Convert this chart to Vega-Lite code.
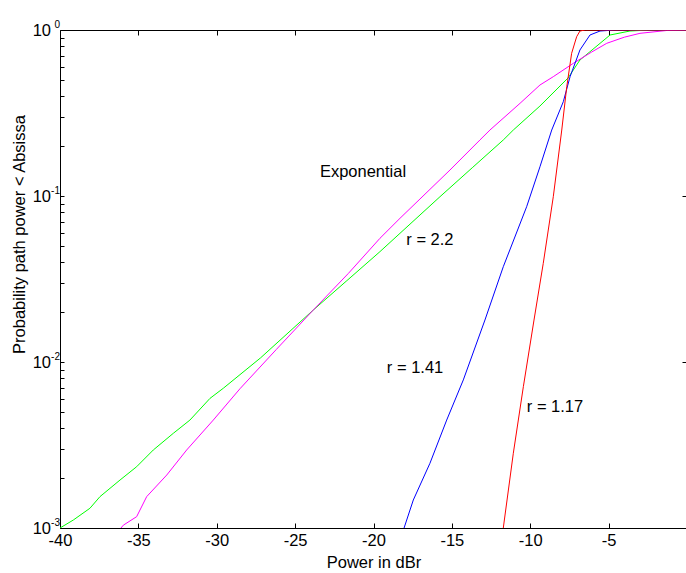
{
  "$schema": "https://vega.github.io/schema/vega-lite/v6.json",
  "width": 627,
  "height": 498,
  "autosize": "none",
  "padding": {"left": 60, "top": 30, "right": 0, "bottom": 45},
  "background": "white",
  "config": {
    "font": "Liberation Sans",
    "view": {"stroke": null},
    "axis": {
      "grid": false,
      "domainColor": "black",
      "tickColor": "black",
      "labelColor": "black",
      "titleColor": "black",
      "labelFont": "Liberation Sans",
      "titleFont": "Liberation Sans",
      "labelFontSize": 16.5,
      "titleFontSize": 16.5,
      "titleFontWeight": "normal",
      "domainWidth": 1,
      "tickWidth": 1,
      "labelFlush": false,
      "labelOverlap": false,
      "labelBound": false
    }
  },
  "title": {
    "text": "CDF of individual path powers, Normalized in sets of six",
    "font": "Liberation Sans",
    "fontSize": 16.5,
    "fontWeight": "normal",
    "color": "black",
    "anchor": "middle",
    "baseline": "alphabetic",
    "offset": 10
  },
  "datasets": {
    "curves": [
      {"series": "r = 2.2", "power": -40, "prob": 0.001},
      {"series": "r = 2.2", "power": -39.15, "prob": 0.001117},
      {"series": "r = 2.2", "power": -38.09, "prob": 0.001315},
      {"series": "r = 2.2", "power": -37.45, "prob": 0.001545},
      {"series": "r = 2.2", "power": -36.17, "prob": 0.001946},
      {"series": "r = 2.2", "power": -35.11, "prob": 0.00234},
      {"series": "r = 2.2", "power": -34.05, "prob": 0.00295},
      {"series": "r = 2.2", "power": -32.77, "prob": 0.00372},
      {"series": "r = 2.2", "power": -31.71, "prob": 0.00447},
      {"series": "r = 2.2", "power": -30.43, "prob": 0.00604},
      {"series": "r = 2.2", "power": -29.58, "prob": 0.00695},
      {"series": "r = 2.2", "power": -27.2, "prob": 0.0106},
      {"series": "r = 2.2", "power": -23.84, "prob": 0.02057},
      {"series": "r = 2.2", "power": -21.7, "prob": 0.0309},
      {"series": "r = 2.2", "power": -19.59, "prob": 0.0462},
      {"series": "r = 2.2", "power": -18.31, "prob": 0.0596},
      {"series": "r = 2.2", "power": -15.76, "prob": 0.099},
      {"series": "r = 2.2", "power": -13.7, "prob": 0.148},
      {"series": "r = 2.2", "power": -11.72, "prob": 0.2175},
      {"series": "r = 2.2", "power": -11.08, "prob": 0.2497},
      {"series": "r = 2.2", "power": -9.38, "prob": 0.3484},
      {"series": "r = 2.2", "power": -7.59, "prob": 0.514},
      {"series": "r = 2.2", "power": -6.83, "prob": 0.6595},
      {"series": "r = 2.2", "power": -6.19, "prob": 0.74},
      {"series": "r = 2.2", "power": -4.91, "prob": 0.933},
      {"series": "r = 2.2", "power": -3.64, "prob": 0.986},
      {"series": "r = 2.2", "power": -2.5, "prob": 0.998},
      {"series": "r = 2.2", "power": 0, "prob": 1},
      {"series": "Exponential", "power": -36.11, "prob": 0.001},
      {"series": "Exponential", "power": -35.96, "prob": 0.00104},
      {"series": "Exponential", "power": -35.11, "prob": 0.00117},
      {"series": "Exponential", "power": -34.47, "prob": 0.001545},
      {"series": "Exponential", "power": -33.19, "prob": 0.002085},
      {"series": "Exponential", "power": -31.92, "prob": 0.00295},
      {"series": "Exponential", "power": -30.22, "prob": 0.00447},
      {"series": "Exponential", "power": -28.52, "prob": 0.0069},
      {"series": "Exponential", "power": -26.2, "prob": 0.0119},
      {"series": "Exponential", "power": -23.84, "prob": 0.02057},
      {"series": "Exponential", "power": -21.6, "prob": 0.0342},
      {"series": "Exponential", "power": -19.59, "prob": 0.0556},
      {"series": "Exponential", "power": -18.31, "prob": 0.0734},
      {"series": "Exponential", "power": -15.12, "prob": 0.1434},
      {"series": "Exponential", "power": -13.21, "prob": 0.2175},
      {"series": "Exponential", "power": -12.57, "prob": 0.2497},
      {"series": "Exponential", "power": -10.65, "prob": 0.3618},
      {"series": "Exponential", "power": -9.38, "prob": 0.4663},
      {"series": "Exponential", "power": -8.53, "prob": 0.5233},
      {"series": "Exponential", "power": -7.25, "prob": 0.63},
      {"series": "Exponential", "power": -6.1, "prob": 0.735},
      {"series": "Exponential", "power": -5.12, "prob": 0.8315},
      {"series": "Exponential", "power": -4.0, "prob": 0.905},
      {"series": "Exponential", "power": -3.0, "prob": 0.955},
      {"series": "Exponential", "power": -1.3, "prob": 0.993},
      {"series": "Exponential", "power": 0, "prob": 1},
      {"series": "r = 1.41", "power": -18.05, "prob": 0.001},
      {"series": "r = 1.41", "power": -17.46, "prob": 0.001475},
      {"series": "r = 1.41", "power": -16.4, "prob": 0.002453},
      {"series": "r = 1.41", "power": -15.33, "prob": 0.00447},
      {"series": "r = 1.41", "power": -14.27, "prob": 0.0078},
      {"series": "r = 1.41", "power": -12.89, "prob": 0.0179},
      {"series": "r = 1.41", "power": -11.72, "prob": 0.0375},
      {"series": "r = 1.41", "power": -10.23, "prob": 0.0862},
      {"series": "r = 1.41", "power": -9.38, "prob": 0.15},
      {"series": "r = 1.41", "power": -8.63, "prob": 0.2497},
      {"series": "r = 1.41", "power": -7.89, "prob": 0.37},
      {"series": "r = 1.41", "power": -7.46, "prob": 0.5233},
      {"series": "r = 1.41", "power": -6.83, "prob": 0.758},
      {"series": "r = 1.41", "power": -6.19, "prob": 0.933},
      {"series": "r = 1.41", "power": -5.55, "prob": 0.986},
      {"series": "r = 1.41", "power": -4.6, "prob": 1},
      {"series": "r = 1.41", "power": 0, "prob": 1},
      {"series": "r = 1.17", "power": -11.72, "prob": 0.001},
      {"series": "r = 1.17", "power": -11.08, "prob": 0.00282},
      {"series": "r = 1.17", "power": -10.44, "prob": 0.0071},
      {"series": "r = 1.17", "power": -9.76, "prob": 0.0179},
      {"series": "r = 1.17", "power": -9.17, "prob": 0.0393},
      {"series": "r = 1.17", "power": -8.53, "prob": 0.099},
      {"series": "r = 1.17", "power": -7.99, "prob": 0.2497},
      {"series": "r = 1.17", "power": -7.67, "prob": 0.4553},
      {"series": "r = 1.17", "power": -7.36, "prob": 0.7238},
      {"series": "r = 1.17", "power": -7.04, "prob": 0.911},
      {"series": "r = 1.17", "power": -6.83, "prob": 0.986},
      {"series": "r = 1.17", "power": -6.5, "prob": 1},
      {"series": "r = 1.17", "power": 0, "prob": 1}
    ],
    "labels": [
      {"text": "Exponential", "power": -20.67, "prob": 0.1395},
      {"text": "r = 2.2", "power": -16.4, "prob": 0.0543},
      {"text": "r = 1.41", "power": -17.35, "prob": 0.0092},
      {"text": "r = 1.17", "power": -8.42, "prob": 0.00536}
    ]
  },
  "layer": [
    {
      "data": {"name": "curves"},
      "mark": {"type": "line", "strokeWidth": 1, "clip": true},
      "encoding": {
        "x": {
          "field": "power",
          "type": "quantitative",
          "scale": {"domain": [-40, 0], "nice": false, "zero": false},
          "axis": {
            "orient": "bottom",
            "values": [-40, -35, -30, -25, -20, -15, -10, -5],
            "labelExpr": "datum.value < 0 ? '-' + abs(datum.value) : '' + datum.value",
            "tickSize": -5,
            "labelPadding": 9,
            "title": "Power in dBr",
            "titleBaseline": "alphabetic",
            "titleY": 39
          }
        },
        "y": {
          "field": "prob",
          "type": "quantitative",
          "scale": {"type": "log", "domain": [0.001, 1], "nice": false},
          "axis": {
            "orient": "left",
            "values": [0.001, 0.002, 0.003, 0.004, 0.005, 0.006, 0.007, 0.008, 0.009, 0.01, 0.02, 0.03, 0.04, 0.05, 0.06, 0.07, 0.08, 0.09, 0.1, 0.2, 0.3, 0.4, 0.5, 0.6, 0.7, 0.8, 0.9, 1],
            "labelExpr": "(datum.value == 1 || datum.value == 0.1 || datum.value == 0.01 || datum.value == 0.001) ? '10' : ''",
            "tickSize": -4,
            "labelPadding": 13.5,
            "labelAlign": "right",
            "labelBaseline": "middle",
            "title": "Probability path power < Absissa",
            "titleAngle": 270,
            "titleBaseline": "alphabetic",
            "titleX": -36,
            "titleY": 204
          }
        },
        "color": {
          "field": "series",
          "type": "nominal",
          "scale": {"domain": ["Exponential", "r = 2.2", "r = 1.41", "r = 1.17"], "range": ["#ff00ff", "#00ff00", "#0000ff", "#ff0000"]},
          "legend": null
        }
      }
    },
    {
      "data": {"name": "labels"},
      "mark": {"type": "text", "font": "Liberation Sans", "fontSize": 16.5, "align": "center", "baseline": "middle", "color": "black"},
      "encoding": {
        "x": {
          "field": "power",
          "type": "quantitative",
          "scale": {"domain": [-40, 0], "nice": false, "zero": false},
          "axis": {"orient": "top", "values": [-40, -35, -30, -25, -20, -15, -10, -5], "tickSize": -5, "labels": false, "title": null}
        },
        "y": {
          "field": "prob",
          "type": "quantitative",
          "scale": {"type": "log", "domain": [0.001, 1], "nice": false},
          "axis": {"orient": "right", "values": [0.001, 0.01, 0.1, 1], "tickSize": -5, "labels": false, "domain": false, "title": null}
        },
        "text": {"field": "text"}
      }
    },
    {
      "data": {"name": "labels"},
      "mark": {"type": "text", "opacity": 0},
      "encoding": {
        "x": {"field": "power", "type": "quantitative", "scale": {"domain": [-40, 0], "nice": false, "zero": false}, "axis": null},
        "y": {
          "field": "prob",
          "type": "quantitative",
          "scale": {"type": "log", "domain": [0.001, 1], "nice": false},
          "axis": {
            "orient": "left",
            "values": [0.001, 0.01, 0.1, 1],
            "labelExpr": "datum.value == 1 ? '0' : datum.value == 0.1 ? '-1' : datum.value == 0.01 ? '-2' : '-3'",
            "ticks": false,
            "domain": false,
            "labelPadding": 0.5,
            "labelFontSize": 10,
            "labelAlign": "right",
            "labelBaseline": "middle",
            "labelOffset": -6,
            "title": null
          }
        },
        "text": {"field": "text"}
      }
    }
  ],
  "resolve": {"axis": {"x": "independent", "y": "independent"}}
}
